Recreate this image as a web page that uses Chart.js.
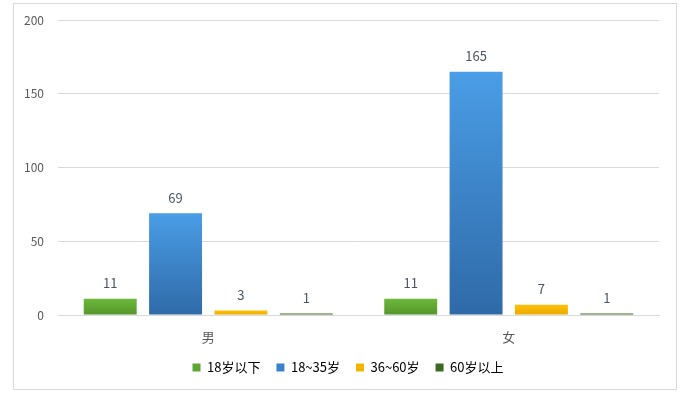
<!DOCTYPE html>
<html lang="zh">
<head>
  <meta charset="UTF-8">
  <title>年龄分布</title>
  <script src="https://cdn.jsdelivr.net/npm/chart.js"></script>
  <style>
    body {
      margin: 0;
      background: #ffffff;
    }
    #box {
      position: absolute;
      left: 13px;
      top: 3px;
      width: 664px;
      height: 387px;
      box-sizing: border-box;
      border: 1px solid #d9d9d9;
    }
  </style>
</head>
<body>
  <div id="box"><canvas id="ageChart"></canvas></div>

  <script>
    // data
    const genders = ["男", "女"];
    const ageGroups = ["18岁以下", "18~35岁", "36~60岁", "60岁以上"];
    const under18 = [11, 11];
    const age18to35 = [69, 165];
    const age36to60 = [3, 7];
    const over60 = [1, 1];
    const yTicks = [0, 50, 100, 150, 200];

    // gradient top / bottom colours per series, plus a flat legend colour
    const topColors = ["#6cb93b", "#4a9de6", "#ffc208", "#4f8a2c"];
    const bottomColors = ["#56952c", "#2f6aa8", "#eaa800", "#3b6b21"];
    const legendColors = ["#5ea535", "#3a83cc", "#f2b600", "#3b6b21"];

    // each bar gets its own vertical gradient, like the original
    function barGradient(i) {
      return function (ctx) {
        const chart = ctx.chart;
        if (ctx.type !== "data" || !chart.chartArea) return legendColors[i];
        const y = chart.scales.y;
        const y0 = y.getPixelForValue(ctx.raw);
        const y1 = y.getPixelForValue(0);
        if (y1 - y0 < 2) return bottomColors[i];
        const g = chart.ctx.createLinearGradient(0, y0, 0, y1);
        g.addColorStop(0, topColors[i]);
        g.addColorStop(1, bottomColors[i]);
        return g;
      };
    }

    // value labels above the bars
    const valueLabels = {
      id: "valueLabels",
      afterDatasetsDraw(chart) {
        const ctx = chart.ctx;
        ctx.save();
        ctx.font = "13px 'Noto Sans CJK SC', sans-serif";
        ctx.fillStyle = "#4a5565";
        ctx.textAlign = "center";
        ctx.textBaseline = "bottom";
        chart.data.datasets.forEach((ds, i) => {
          chart.getDatasetMeta(i).data.forEach((bar, j) => {
            ctx.fillText(ds.data[j], bar.x, bar.y - 9);
          });
        });
        ctx.restore();
      }
    };

    const series = [under18, age18to35, age36to60, over60];

    // empty axis used only as a spacer
    function spacer(position, width, weight) {
      return {
        type: "linear",
        position: position,
        weight: weight,
        grid: { display: false },
        border: { display: false },
        ticks: { display: false },
        afterFit: scale => { scale.width = width; }
      };
    }

    new Chart(document.getElementById("ageChart"), {
      type: "bar",
      data: {
        labels: genders,
        datasets: series.map((vals, i) => ({
          label: ageGroups[i],
          data: vals,
          backgroundColor: barGradient(i),
          borderWidth: 0,
          categoryPercentage: 0.87,
          barPercentage: 0.81
        }))
      },
      options: {
        responsive: true,
        maintainAspectRatio: false,
        animation: false,
        layout: { padding: { top: 8, right: 0, left: 6, bottom: 5 } },
        plugins: {
          tooltip: { enabled: false },
          legend: {
            position: "bottom",
            labels: {
              boxWidth: 8,
              boxHeight: 8,
              padding: 16,
              color: "#595959",
              font: { family: "'Noto Sans CJK SC', sans-serif", size: 13 },
              generateLabels: chart => chart.data.datasets.map((ds, i) => ({
                text: ds.label,
                fillStyle: legendColors[i],
                strokeStyle: legendColors[i],
                lineWidth: 0,
                datasetIndex: i
              }))
            }
          }
        },
        scales: {
          x: {
            grid: { display: false },
            border: { color: "#d9d9d9" },
            ticks: {
              padding: 6,
              color: "#595959",
              font: { family: "'Noto Sans CJK SC', sans-serif", size: 13 }
            },
            afterFit: scale => { scale.height = 30; }
          },
          y: {
            min: 0,
            max: 200,
            weight: 1,
            border: { display: false },
            grid: { color: "#d9d9d9", drawTicks: false },
            afterBuildTicks: scale => { scale.ticks = yTicks.map(v => ({ value: v })); },
            ticks: {
              padding: 9,
              color: "#595959",
              font: { family: "'Noto Sans CJK SC', sans-serif", size: 12 }
            },
            afterFit: scale => { scale.width = 33; }
          },
          gapLeft: spacer("left", 5, 0),
          gapRight: spacer("right", 17, 0)
        }
      },
      plugins: [valueLabels]
    });
  </script>
</body>
</html>
